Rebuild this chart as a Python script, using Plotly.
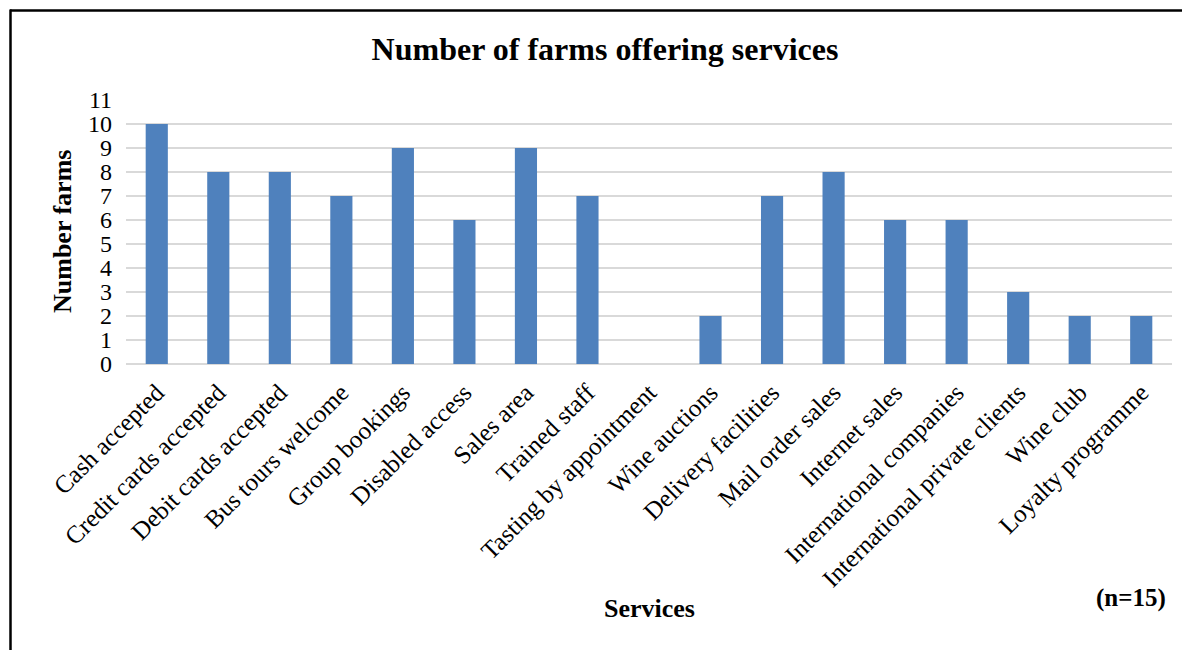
import plotly.graph_objects as go

categories = ["Cash accepted", "Credit cards accepted", "Debit cards accepted",
              "Bus tours welcome", "Group bookings", "Disabled access", "Sales area",
              "Trained staff", "Tasting by appointment", "Wine auctions",
              "Delivery facilities", "Mail order sales", "Internet sales",
              "International companies", "International private clients",
              "Wine club", "Loyalty programme"]
values = [10, 8, 8, 7, 9, 6, 9, 7, 0, 2, 7, 8, 6, 6, 3, 2, 2]
y_ticks = list(range(0, 12))

# page has an 8px body margin; work in screenshot coordinates
OFF = 8
SW, SH = 1190, 650
W, H = SW - OFF, SH - OFF
L, R, T, B = 126, 1172, 100, 364          # plot area in screenshot px
pw, ph = R - L, B - T


def px(x):
    return (x - L) / pw


def py(y):
    return (B - y) / ph


FONT = "Liberation Serif, Times New Roman, serif"

fig = go.Figure(go.Bar(x=categories, y=values, marker_color="#4F81BD",
                       marker_line_width=0))

fig.update_layout(
    width=W, height=H,
    margin=dict(l=L - OFF, r=SW - R, t=T - OFF, b=SH - B, pad=0),
    paper_bgcolor="white", plot_bgcolor="white",
    bargap=0.64, showlegend=False,
    font=dict(family=FONT, color="black", size=25),
    title=dict(text="<b>Number of farms offering services</b>", x=(605 - OFF) / W,
               xanchor="center", y=1 - (49 - OFF) / H, yanchor="middle",
               font=dict(family=FONT, size=32, color="black")),
)
fig.update_xaxes(tickangle=-45, tickfont=dict(family=FONT, size=25, color="black"),
                 showgrid=False, showline=False, ticks="", ticklabelstandoff=8)
fig.update_yaxes(range=[0, 11], tickvals=y_ticks, showgrid=True, gridcolor="#d9d9d9",
                 gridwidth=1.5, zeroline=True, zerolinecolor="#d9d9d9", zerolinewidth=1.5,
                 tickfont=dict(family=FONT, size=24, color="black"), ticks="",
                 ticklabelstandoff=13)

fig.add_annotation(text="<b>Number farms</b>", textangle=-90, xref="paper", yref="paper",
                   x=px(62), y=0.5, xanchor="center", yanchor="middle", showarrow=False,
                   font=dict(family=FONT, size=26, color="black"))
fig.add_annotation(text="<b>Services</b>", xref="paper", yref="paper",
                   x=px(649), y=py(608), xanchor="center", yanchor="middle", showarrow=False,
                   font=dict(family=FONT, size=26, color="black"))
fig.add_annotation(text="<b>(n=15)</b>", xref="paper", yref="paper",
                   x=px(1131), y=py(598), xanchor="center", yanchor="middle", showarrow=False,
                   font=dict(family=FONT, size=25, color="black"))

# chart frame (top and left edges visible in the reference)
fig.add_shape(type="line", xref="paper", yref="paper", x0=px(10), x1=px(1200),
              y0=py(10.5), y1=py(10.5), line=dict(color="black", width=2.5))
fig.add_shape(type="line", xref="paper", yref="paper", x0=px(10.5), x1=px(10.5),
              y0=py(9.5), y1=py(660), line=dict(color="black", width=2.5))

fig.write_html("out.html")
